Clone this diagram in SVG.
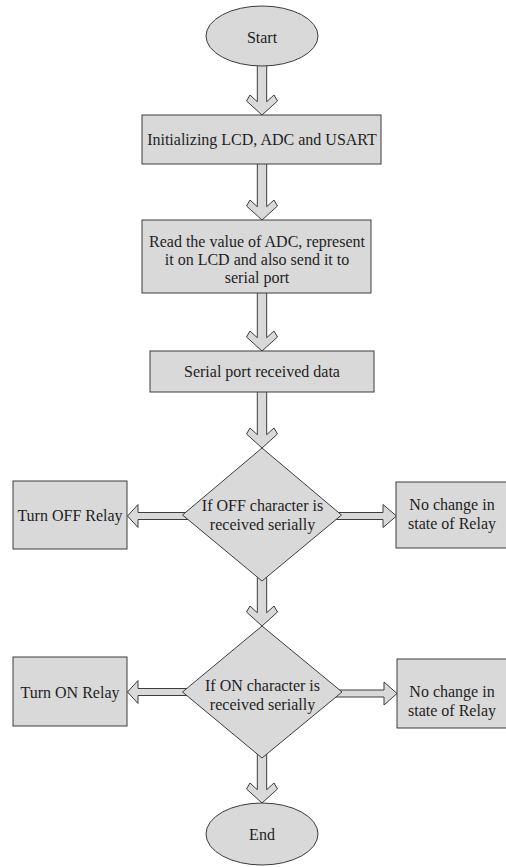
<svg xmlns="http://www.w3.org/2000/svg" width="506" height="867" viewBox="0 0 506 867">
  <style>
    .shape { fill: #d9d9d9; stroke: #3c3c3c; stroke-width: 1; }
    .arrow { fill: #d9d9d9; stroke: #3c3c3c; stroke-width: 1; stroke-linejoin: miter; }
    text { font-family: "Liberation Serif", "Times New Roman", serif; font-size: 16px; fill: #1e1e1e; text-anchor: middle; }
  </style>
  <rect width="506" height="867" fill="#ffffff"/>

  <!-- block arrows between the steps -->
  <g id="connectors">
    <polygon class="arrow" points="257.3,58 257.3,101.7 250,95 246.5,101 262,115 277.5,101 274,95 266.7,101.7 266.7,58"/>
    <polygon class="arrow" points="257.3,160 257.3,206.7 250,200 246.5,206 262,220 277.5,206 274,200 266.7,206.7 266.7,160"/>
    <polygon class="arrow" points="257.3,289 257.3,337.7 250,331 246.5,337 262,351 277.5,337 274,331 266.7,337.7 266.7,289"/>
    <polygon class="arrow" points="257.3,388 257.3,434.7 250,428 246.5,434 262,448 277.5,434 274,428 266.7,434.7 266.7,388"/>
    <polygon class="arrow" points="257.3,570 257.3,612.7 250,606 246.5,612 262,626 277.5,612 274,606 266.7,612.7 266.7,570"/>
    <polygon class="arrow" points="257.3,748 257.3,789.7 250,783 246.5,789 262,803 277.5,789 274,783 266.7,789.7 266.7,748"/>
    <!-- side exits of the first decision -->
    <polygon class="arrow" points="190,512.5 138,512.5 138,504.5 127.5,516 138,527.5 138,519.5 190,519.5"/>
    <polygon class="arrow" points="334,512.5 383,512.5 383,504.5 396.5,516 383,527.5 383,519.5 334,519.5"/>
    <!-- side exits of the second decision -->
    <polygon class="arrow" points="190,688.5 138,688.5 138,680.5 127.5,692 138,703.5 138,695.5 190,695.5"/>
    <polygon class="arrow" points="335,690 384,690 384,682 397,693.5 384,705 384,697 335,697"/>
  </g>

  <g id="start">
    <ellipse class="shape" cx="262" cy="36" rx="56" ry="30"/>
    <text x="262" y="43">Start</text>
  </g>

  <g id="init">
    <rect class="shape" x="142" y="115" width="239" height="49"/>
    <text x="262" y="145">Initializing LCD, ADC and USART</text>
  </g>

  <g id="read-adc">
    <rect class="shape" x="142" y="220" width="229" height="73"/>
    <text x="257" y="247">Read the value of ADC, represent</text>
    <text x="257" y="265">it on LCD and also send it to</text>
    <text x="257" y="283">serial port</text>
  </g>

  <g id="serial-rx">
    <rect class="shape" x="150" y="351" width="224" height="41"/>
    <text x="262" y="377">Serial port received data</text>
  </g>

  <g id="check-off">
    <polygon class="shape" points="262,448 341.5,515 262,581 182.5,515"/>
    <text x="262.5" y="511">If OFF character is</text>
    <text x="262.5" y="530">received serially</text>
  </g>

  <g id="relay-off">
    <rect class="shape" x="13" y="481" width="114" height="68"/>
    <text x="70" y="521">Turn OFF Relay</text>
  </g>

  <g id="no-change-1">
    <rect class="shape" x="396" y="482" width="116" height="66"/>
    <text x="452" y="510">No change in</text>
    <text x="452" y="529">state of Relay</text>
  </g>

  <g id="check-on">
    <polygon class="shape" points="262,626 342,692 262,758 182.5,692"/>
    <text x="262.5" y="691">If ON character is</text>
    <text x="262.5" y="710">received serially</text>
  </g>

  <g id="relay-on">
    <rect class="shape" x="13" y="657" width="114" height="69"/>
    <text x="70" y="698">Turn ON Relay</text>
  </g>

  <g id="no-change-2">
    <rect class="shape" x="397" y="659" width="116" height="69"/>
    <text x="452" y="697">No change in</text>
    <text x="452" y="716">state of Relay</text>
  </g>

  <g id="end">
    <ellipse class="shape" cx="262" cy="834" rx="56" ry="31"/>
    <text x="262" y="840">End</text>
  </g>
</svg>
